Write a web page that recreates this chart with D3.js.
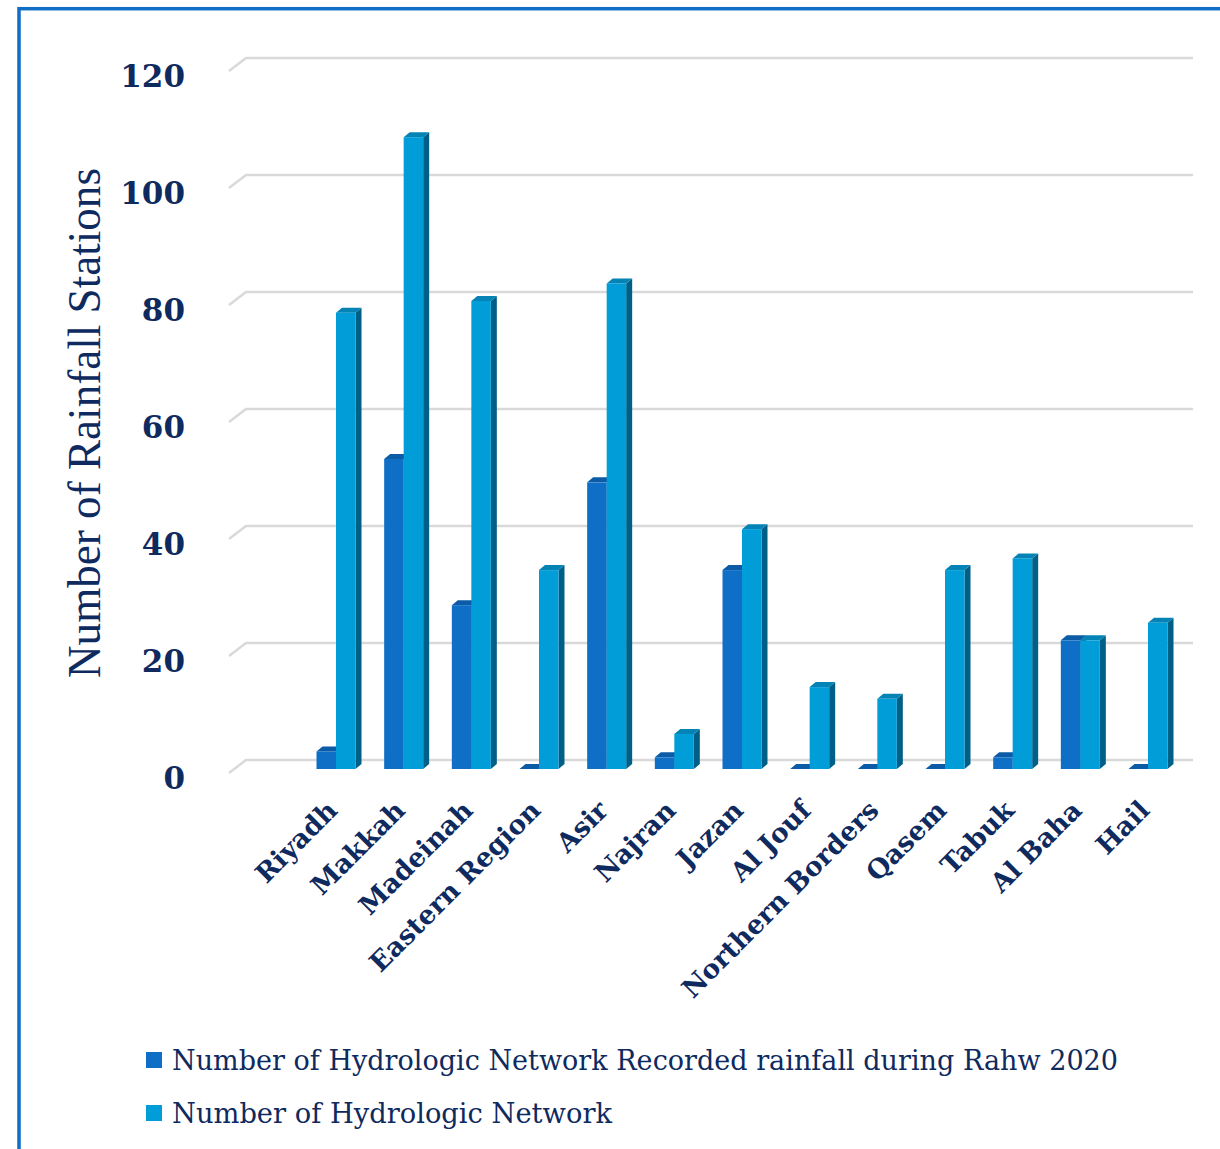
<!DOCTYPE html>
<html>
<head>
<meta charset="utf-8">
<script src="https://cdn.jsdelivr.net/npm/d3@7"></script>
<style>
  html, body { margin: 0; padding: 0; background: #ffffff; }
  svg { display: block; }
</style>
</head>
<body>
<svg id="chart" width="1220" height="1149"></svg>
<script>
// Rainfall stations per region
const categories = ["Riyadh", "Makkah", "Madeinah", "Eastern Region", "Asir", "Najran", "Jazan",
  "Al Jouf", "Northern Borders", "Qasem", "Tabuk", "Al Baha", "Hail"];
const recordedRainfall = [3, 53, 28, 0, 49, 2, 34, 0, 0, 0, 2, 22, 0];
const networkTotal = [78, 108, 80, 34, 83, 6, 41, 14, 12, 34, 36, 22, 25];
const yTicks = [0, 20, 40, 60, 80, 100, 120];
const seriesNames = ["Number of Hydrologic Network Recorded rainfall during Rahw 2020",
  "Number of Hydrologic Network"];
const yTitle = "Number of Rainfall Stations";

const navy = "#0e2a5e";
const faces = [
  { front: "#0f6fc6", top: "#0b5ba6", side: "#0a4f8f" },
  { front: "#009dd9", top: "#0583b5", side: "#005f86" }
];

const svg = d3.select("#chart");

// outer frame
svg.append("rect")
  .attr("x", 19).attr("y", 8.7).attr("width", 1240).attr("height", 1200)
  .attr("fill", "none").attr("stroke", "#0f6fc6").attr("stroke-width", 3.5);

// value scale for the front plane of the bars
const y = d3.scaleLinear().domain([0, 120]).range([769, 67]);
// group centres
const x = d3.scalePoint().domain(categories).range([336, 1148]);

const barW = 19.5;      // width of each bar face
const depth = { dx: 6, dy: -5 };      // bar depth offset
const wall = { dx: 17, dy: -13, shift: 9 };  // floor depth and back-wall offset

// back wall gridlines with a short floor edge on the left
const grid = svg.append("g").attr("class", "grid");
yTicks.forEach(v => {
  const yb = y(v) - wall.shift;
  grid.append("path")
    .attr("d", `M229,${yb - wall.dy} L${229 + wall.dx},${yb} L1193,${yb}`)
    .attr("fill", "none").attr("stroke", "#d9d9d9").attr("stroke-width", 2.5);
});

// tick labels
svg.append("g").selectAll("text").data(yTicks).join("text")
  .attr("x", 185).attr("y", d => y(d) + 20)
  .attr("text-anchor", "end")
  .attr("font-family", "DejaVu Serif").attr("font-weight", "bold").attr("font-size", 31)
  .attr("fill", navy)
  .text(d => d);

// axis title
svg.append("text")
  .attr("transform", "translate(100,423) rotate(-90)")
  .attr("text-anchor", "middle")
  .attr("font-family", "Liberation Serif").attr("font-size", 46)
  .attr("textLength", 510).attr("lengthAdjust", "spacingAndGlyphs")
  .attr("fill", navy)
  .text(yTitle);

// bars: front, top and right side of each column
const bars = svg.append("g").attr("class", "bars");
categories.forEach((c, i) => {
  [recordedRainfall[i], networkTotal[i]].forEach((v, s) => {
    const x0 = s === 0 ? x(c) - barW : x(c);
    const x1 = x0 + barW;
    const yt = y(v), yb = y(0);
    const g = bars.append("g");
    g.append("path")
      .attr("d", `M${x1},${yt} L${x1 + depth.dx},${yt + depth.dy} L${x1 + depth.dx},${yb + depth.dy} L${x1},${yb} Z`)
      .attr("fill", faces[s].side);
    g.append("path")
      .attr("d", `M${x0},${yt} L${x0 + depth.dx},${yt + depth.dy} L${x1 + depth.dx},${yt + depth.dy} L${x1},${yt} Z`)
      .attr("fill", faces[s].top);
    g.append("rect")
      .attr("x", x0).attr("y", yt).attr("width", barW).attr("height", yb - yt)
      .attr("fill", faces[s].front);
  });
});

// category labels, rotated
svg.append("g").selectAll("text").data(categories).join("text")
  .attr("transform", d => `translate(${x(d) + 3},812) rotate(-45)`)
  .attr("text-anchor", "end")
  .attr("font-family", "DejaVu Serif").attr("font-weight", "bold").attr("font-size", 26.5)
  .attr("fill", navy)
  .text(d => d);

// legend
const legend = svg.append("g").attr("class", "legend");
const legendWidths = [946, 440];
seriesNames.forEach((name, s) => {
  const ly = 1060 + s * 53;
  legend.append("rect")
    .attr("x", 146).attr("y", ly - 8).attr("width", 16).attr("height", 16)
    .attr("fill", faces[s].front);
  legend.append("text")
    .attr("x", 172).attr("y", ly + 10)
    .attr("font-family", "DejaVu Serif").attr("font-size", 27)
    .attr("textLength", legendWidths[s]).attr("lengthAdjust", "spacingAndGlyphs")
    .attr("fill", navy)
    .text(name);
});
</script>
</body>
</html>
